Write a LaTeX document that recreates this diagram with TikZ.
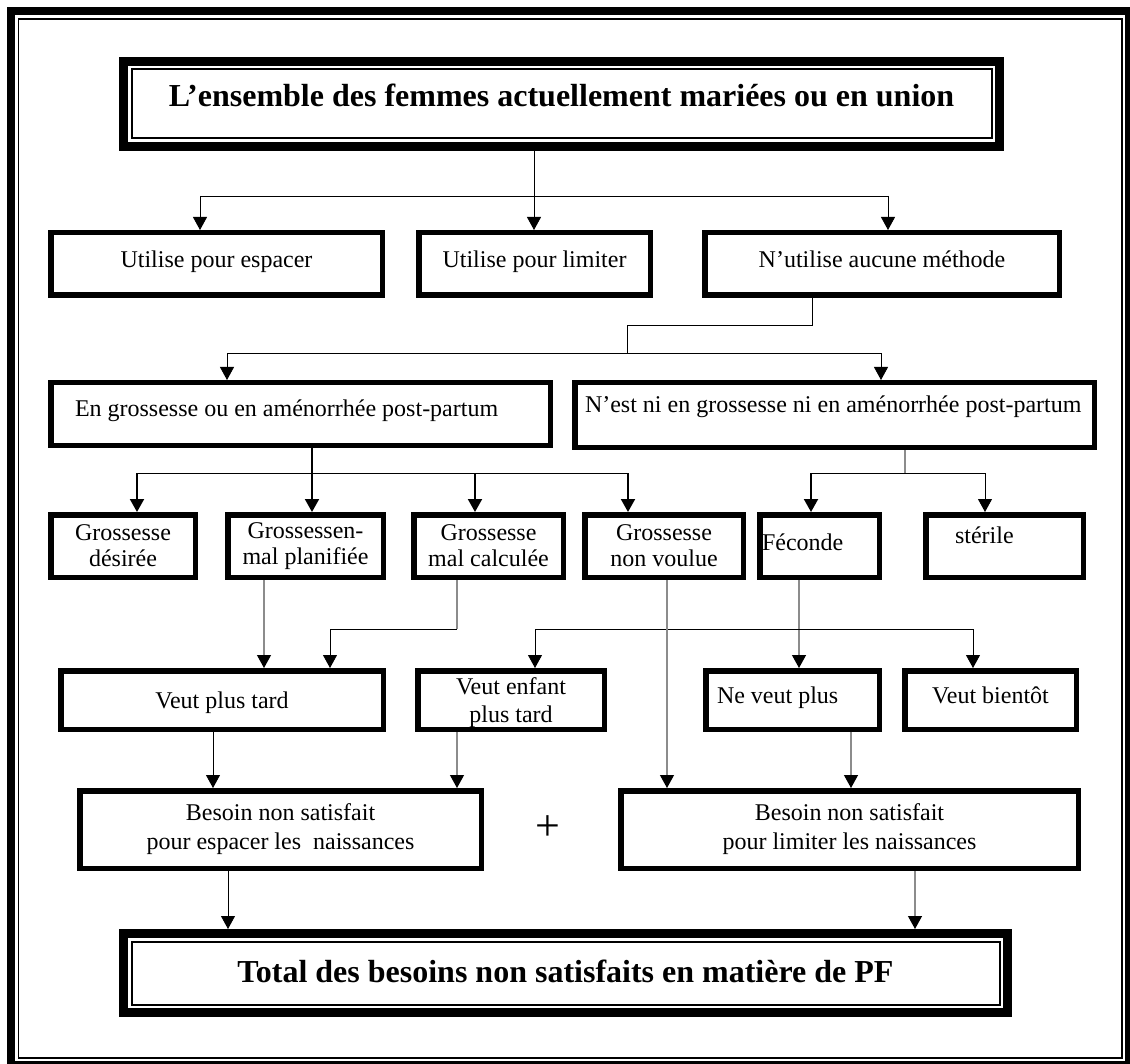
\documentclass[tikz,border=0pt]{standalone}
\usepackage{fontspec}
\setmainfont{Liberation Serif}
\usetikzlibrary{arrows.meta}
\newcommand\lft[3]{\makebox[#1][l]{\hspace*{#2}#3}}
\begin{document}
\begin{tikzpicture}[x=1pt,y=-1pt,
  bx/.style={draw=black, line width=5.5pt, fill=white, inner sep=0pt, align=center, font=\fontsize{24}{26}\selectfont},
  ttl/.style={draw=black, line width=9pt, fill=white, inner sep=0pt, font=\bfseries\fontsize{32}{36}\selectfont},
  inframe/.style={draw=black, line width=2pt, inner sep=0pt},
  conn/.style={draw=black, line width=0.9pt},
  gconn/.style={draw=black!45, line width=1.2pt},
  tconn/.style={draw=black, line width=2pt},
  tip/.style={-{Triangle[length=13pt,width=14pt,color=black]}},
]
\useasboundingbox (0,0) rectangle (1130,1064);
% page frame
\draw[line width=8pt] (11,11) rectangle (1129,1065);
\draw[line width=1.5pt] (18.5,19) rectangle (1122,1058);

% title
\node[ttl, minimum width=876pt, minimum height=85pt] (title) at (561.5,104) {};
\node[inframe, minimum width=860pt, minimum height=69pt, text height=22pt, text depth=16pt, font=\bfseries\fontsize{32}{36}\selectfont] (titlein) at (title.center) {L’ensemble des femmes actuellement mariées ou en union};

% row 1
\node[bx, minimum width=331.5pt, minimum height=62.5pt, text height=16pt, text depth=8pt] (esp) at (216.5,264) {Utilise pour espacer};
\node[bx, minimum width=231.5pt, minimum height=62.5pt, text height=16pt, text depth=8pt] (lim) at (534.5,264) {Utilise pour limiter};
\node[bx, minimum width=354.5pt, minimum height=62.5pt, text height=16pt, text depth=8pt] (nut) at (882,264) {N’utilise aucune méthode};

% row 2
\node[bx, minimum height=62.5pt, text height=16pt, text depth=10pt] (gro) at (300.5,414) {\lft{499.5pt}{24.25pt}{En grossesse ou en aménorrhée post-partum}};
\node[bx, minimum height=64.5pt, text height=16pt, text depth=20pt] (nes) at (834.5,415) {\lft{519.5pt}{10.25pt}{N’est ni en grossesse ni en aménorrhée post-partum}};

% row 3
\node[bx, minimum width=144.5pt, minimum height=62.5pt] (des) at (123,546) {Grossesse\\désirée};
\node[bx, minimum width=155.5pt, minimum height=62.5pt] (pla) at (305.5,546) {Grossessen-\\mal planifiée};
\node[bx, minimum width=149.5pt, minimum height=62.5pt] (cal) at (488.5,546) {Grossesse\\mal calculée};
\node[bx, minimum width=158.5pt, minimum height=62.5pt] (nvo) at (664,546) {Grossesse\\non voulue};
\node[bx, minimum height=62.5pt, text height=16pt, text depth=8pt] (fec) at (819.5,546) {\lft{119.5pt}{2.25pt}{Féconde}};
\node[bx, minimum height=62.5pt, text height=16pt, text depth=22pt] (ste) at (1004.5,546) {\lft{157.5pt}{29.25pt}{stérile}};

% row 4
\node[bx, minimum width=322.5pt, minimum height=58.5pt, text height=16pt, text depth=0pt] (vpt) at (222,700) {Veut plus tard};
\node[bx, minimum width=186.5pt, minimum height=58.5pt, font=\fontsize{24}{28}\selectfont] (ven) at (511,700) {\rule{0pt}{23pt}Veut enfant\\plus tard};
\node[bx, minimum height=58.5pt, text height=16pt, text depth=10pt] (nvp) at (792.5,700) {\lft{173.5pt}{11.25pt}{Ne veut plus}};
\node[bx, minimum width=171.5pt, minimum height=58.5pt, text height=16pt, text depth=10pt] (vbt) at (990.5,700) {Veut bientôt};

% row 5
\node[bx, minimum width=401.5pt, minimum height=77.5pt, font=\fontsize{24}{29}\selectfont] (bes) at (280.5,829.5) {Besoin non satisfait\\pour espacer les\ \ naissances};
\node[bx, minimum width=457.5pt, minimum height=77.5pt, font=\fontsize{24}{29}\selectfont] (bli) at (849.5,829.5) {Besoin non satisfait\\pour limiter les naissances};
\node[font=\fontsize{44}{46}\selectfont, inner sep=0pt] (plus) at (548,828) {+};

% total
\node[ttl, minimum width=884pt, minimum height=79pt] (tot) at (565.5,973) {};
\node[inframe, minimum width=868pt, minimum height=63pt, text height=22pt, text depth=4pt, font=\bfseries\fontsize{32}{36}\selectfont] (totin) at (tot.center) {Total des besoins non satisfaits en matière de PF};

% connectors: title -> row 1
\coordinate (c1) at (200,196);
\coordinate (c2) at (534,196);
\coordinate (c3) at (888,196);
\draw[conn,tip] (c2 |- title.south) -- (c2 |- lim.north);
\draw[conn] (c1) -- (c3);
\draw[conn,tip] (c1) -- (c1 |- esp.north);
\draw[conn,tip] (c3) -- (c3 |- nut.north);

% N'utilise -> row 2
\coordinate (d1) at (812,325);
\coordinate (d2) at (627,325);
\coordinate (d3) at (627,353);
\coordinate (d4) at (227,353);
\coordinate (d5) at (881,353);
\draw[conn] (d1 |- nut.south) -- (d1) -- (d2) -- (d3);
\draw[conn,tip] (d3) -- (d4) -- (d4 |- gro.north);
\draw[conn,tip] (d3) -- (d5) -- (d5 |- nes.north);

% En grossesse -> row 3
\coordinate (e0) at (312,473);
\coordinate (e1) at (137,473);
\coordinate (e2) at (475,473);
\coordinate (e3) at (628,473);
\draw[tconn] (e0 |- gro.south) -- (e0);
\draw[conn] (e1) -- (e3);
\draw[tconn,tip] (e1) -- (e1 |- des.north);
\draw[tconn,tip] (e0) -- (e0 |- pla.north);
\draw[tconn,tip] (e2) -- (e2 |- cal.north);
\draw[tconn,tip] (e3) -- (e3 |- nvo.north);

% N'est ni -> row 3
\coordinate (f0) at (905,473);
\coordinate (f1) at (811,473);
\coordinate (f2) at (985,473);
\draw[gconn] (f0 |- nes.south) -- (f0);
\draw[conn] (f1) -- (f2);
\draw[tconn,tip] (f1) -- (f1 |- fec.north);
\draw[conn,tip] (f2) -- (f2 |- ste.north);

% row 3 -> row 4
\coordinate (xp) at (264,0);
\draw[gconn,tip] (xp |- pla.south) -- (xp |- vpt.north);
\coordinate (h1) at (457,629);
\coordinate (h2) at (330,629);
\draw[gconn] (h1 |- cal.south) -- (h1);
\draw[conn,tip] (h1) -- (h2) -- (h2 |- vpt.north);
\coordinate (xf) at (799,0);
\draw[gconn,tip] (xf |- fec.south) -- (xf |- nvp.north);
\coordinate (k1) at (535,629);
\coordinate (k2) at (973,629);
\draw[conn] (k1) -- (k2);
\draw[conn,tip] (k1) -- (k1 |- ven.north);
\draw[conn,tip] (k2) -- (k2 |- vbt.north);
\coordinate (xn) at (667,0);
\draw[gconn,tip] (xn |- nvo.south) -- (xn |- bli.north);

% row 4 -> row 5
\coordinate (xa) at (213,0);
\coordinate (xb) at (457,0);
\coordinate (xc) at (851,0);
\draw[conn,tip] (xa |- vpt.south) -- (xa |- bes.north);
\draw[gconn,tip] (xb |- ven.south) -- (xb |- bes.north);
\draw[gconn,tip] (xc |- nvp.south) -- (xc |- bli.north);

% row 5 -> total
\coordinate (ya) at (228,0);
\coordinate (yb) at (915,0);
\draw[conn,tip] (ya |- bes.south) -- (ya |- tot.north);
\draw[gconn,tip] (yb |- bli.south) -- (yb |- tot.north);
\end{tikzpicture}
\end{document}
